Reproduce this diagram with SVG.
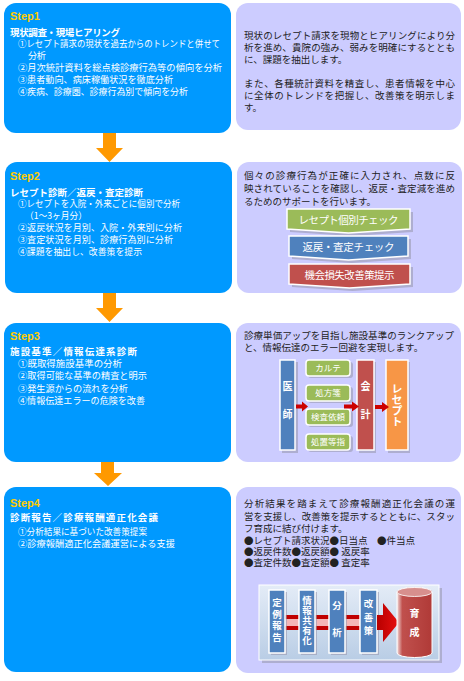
<svg xmlns="http://www.w3.org/2000/svg" width="464" height="681" viewBox="0 0 464 681">
<style>
.bl{fill:#0099FF}
.lv{fill:#CCCCFF}
.st{font-family:"Liberation Sans",Arial,sans-serif;font-weight:bold;font-size:11px;fill:#FFCC00}
.tt{font-family:"Noto Sans CJK JP",sans-serif;font-weight:bold;font-size:9.5px;fill:#FFFFFF}
.lt{font-family:"Noto Sans CJK JP",sans-serif;font-size:9.2px;fill:#FFFFFF}
.rt{font-family:"Noto Sans CJK JP",sans-serif;font-size:9.5px;fill:#222222}
.bn{font-family:"Noto Sans CJK JP",sans-serif;font-size:10.5px;fill:#FFFFFF;text-anchor:middle}
.vt{font-family:"Noto Sans CJK JP",sans-serif;font-weight:bold;font-size:10px;fill:#FFFFFF;text-anchor:middle;writing-mode:vertical-rl}
.gt{font-family:"Noto Sans CJK JP",sans-serif;font-size:8.5px;fill:#FFFFFF;text-anchor:middle}
.arr{fill:#FF9900}
.sh{fill:#9A9AB0;opacity:0.6}
.wb{stroke:#FFFFFF;stroke-width:1.5}
.ra{fill:#CC0000}
</style>
<defs>
<linearGradient id="pan" x1="0" y1="0" x2="0" y2="1">
<stop offset="0" stop-color="#E4ECF7"/>
<stop offset="1" stop-color="#B9CDE5"/>
</linearGradient>
<linearGradient id="band" x1="0" y1="0" x2="0" y2="1">
<stop offset="0" stop-color="#C00000"/>
<stop offset="0.28" stop-color="#C00000"/>
<stop offset="0.3" stop-color="#F4B6B6"/>
<stop offset="0.7" stop-color="#F4B6B6"/>
<stop offset="0.72" stop-color="#C00000"/>
<stop offset="1" stop-color="#C00000"/>
</linearGradient>
<linearGradient id="bigarr" x1="0" y1="0" x2="1" y2="0">
<stop offset="0" stop-color="#B80000"/>
<stop offset="1" stop-color="#E81010"/>
</linearGradient>
<linearGradient id="cyl" x1="0" y1="0" x2="1" y2="0">
<stop offset="0" stop-color="#F2DCDB"/>
<stop offset="0.15" stop-color="#C0504D"/>
<stop offset="1" stop-color="#B03A37"/>
</linearGradient>
</defs>

<g id="connectors">
<polygon class="arr" points="103,133 116,133 116,148 123,148 109.5,162 96,148 103,148"/>
<polygon class="arr" points="103,293 116,293 116,308 123,308 109.5,322 96,308 103,308"/>
<polygon class="arr" points="101,462 114,462 114,473 122,473 108,486 94,473 101,473"/>
</g>

<g id="step1">
<rect class="bl" x="4" y="3" width="227" height="130" rx="12"/>
<text class="st" x="10" y="20">Step1</text>
<text class="tt" x="10" y="35.5" textLength="110">現状調査・現場ヒアリング</text>
<text class="lt" x="18" y="47" textLength="202" lengthAdjust="spacingAndGlyphs">①レセプト請求の現状を過去からのトレンドと併せて</text>
<text class="lt" x="28" y="59" textLength="18">分析</text>
<text class="lt" x="18" y="71" textLength="204" lengthAdjust="spacingAndGlyphs">②月次統計資料を総点検診療行為等の傾向を分析</text>
<text class="lt" x="18" y="83" textLength="155" lengthAdjust="spacingAndGlyphs">③患者動向、病床稼働状況を徹底分析</text>
<text class="lt" x="18" y="95" textLength="170" lengthAdjust="spacingAndGlyphs">④疾病、診療圏、診療行為別で傾向を分析</text>
</g>

<g id="step1-desc">
<rect class="lv" x="236" y="3" width="225" height="127" rx="12"/>
<text class="rt" x="244" y="39" textLength="211">現状のレセプト請求を現物とヒアリングにより分</text>
<text class="rt" x="244" y="51" textLength="211">析を進め、貴院の強み、弱みを明確にするととも</text>
<text class="rt" x="244" y="62.5">に、課題を抽出します。</text>
<text class="rt" x="244" y="87" textLength="211">また、各種統計資料を精査し、患者情報を中心</text>
<text class="rt" x="244" y="99" textLength="211">に全体のトレンドを把握し、改善策を明示しま</text>
<text class="rt" x="244" y="110.5">す。</text>
</g>

<g id="step2">
<rect class="bl" x="5" y="162" width="227" height="131" rx="12"/>
<text class="st" x="10" y="180">Step2</text>
<text class="tt" x="10" y="196" textLength="133">レセプト診断／返戻・査定診断</text>
<text class="lt" x="18" y="207" textLength="162" lengthAdjust="spacingAndGlyphs">①レセプトを入院・外来ごとに個別で分析</text>
<text class="lt" x="25" y="219" textLength="62" lengthAdjust="spacingAndGlyphs">（1～3ヶ月分）</text>
<text class="lt" x="18" y="231" textLength="164" lengthAdjust="spacingAndGlyphs">②返戻状況を月別、入院・外来別に分析</text>
<text class="lt" x="18" y="243" textLength="155" lengthAdjust="spacingAndGlyphs">③査定状況を月別、診療行為別に分析</text>
<text class="lt" x="18" y="255" textLength="124" lengthAdjust="spacingAndGlyphs">④課題を抽出し、改善策を提示</text>
</g>

<g id="step2-desc">
<rect class="lv" x="237" y="162" width="225" height="131" rx="12"/>
<text class="rt" x="244" y="178.5" textLength="211">個々の診療行為が正確に入力され、点数に反</text>
<text class="rt" x="244" y="191.5" textLength="211">映されていることを確認し、返戻・査定減を進め</text>
<text class="rt" x="244" y="204.5">るためのサポートを行います。</text>
<polygon class="sh" points="290,212 413,212 413,232 351.5,236 290,232"/>
<polygon fill="#9BBB59" class="wb" points="287,209 410,209 410,229 348.5,233 287,229"/>
<text class="bn" x="348.5" y="224" textLength="100">レセプト個別チェック</text>
<polygon class="sh" points="292,239 411,239 411,259 351.5,263 292,259"/>
<polygon fill="#4F81BD" class="wb" points="289,236 408,236 408,256 348.5,260 289,256"/>
<text class="bn" x="348.5" y="251" textLength="92">返戻・査定チェック</text>
<polygon class="sh" points="292,267 413,267 413,287 352.5,291 292,287"/>
<polygon fill="#C0504D" class="wb" points="289,264 410,264 410,284 349.5,288 289,284"/>
<text class="bn" x="349.5" y="279" textLength="90">機会損失改善策提示</text>
</g>

<g id="step3">
<rect class="bl" x="4" y="323" width="227" height="139" rx="12"/>
<text class="st" x="10" y="340">Step3</text>
<text class="tt" x="10" y="354.5" textLength="127">施設基準／情報伝達系診断</text>
<text class="lt" x="18" y="367" textLength="104" lengthAdjust="spacingAndGlyphs">①既取得施設基準の分析</text>
<text class="lt" x="18" y="379" textLength="129" lengthAdjust="spacingAndGlyphs">②取得可能な基準の精査と明示</text>
<text class="lt" x="18" y="391.5" textLength="110" lengthAdjust="spacingAndGlyphs">③発生源からの流れを分析</text>
<text class="lt" x="18" y="403.5" textLength="127" lengthAdjust="spacingAndGlyphs">④情報伝達エラーの危険を改善</text>
</g>

<g id="step3-desc">
<rect class="lv" x="236" y="323" width="225" height="139" rx="12"/>
<text class="rt" x="244" y="338.5" textLength="210">診療単価アップを目指し施設基準のランクアップ</text>
<text class="rt" x="244" y="350.5">と、情報伝達のエラー回避を実現します。</text>
<rect class="sh" x="282" y="362" width="16" height="91"/>
<rect fill="#4F81BD" class="wb" x="280" y="360" width="15" height="90"/>
<text class="vt" x="287.5" y="409" style="letter-spacing:18px">医師</text>
<rect class="sh" x="308" y="362" width="45" height="16" rx="3"/>
<rect fill="#9BBB59" class="wb" x="306" y="360" width="44" height="16" rx="3"/>
<text class="gt" x="328" y="371">カルテ</text>
<rect class="sh" x="308" y="387" width="45" height="16" rx="3"/>
<rect fill="#9BBB59" class="wb" x="306" y="385" width="44" height="16" rx="3"/>
<text class="gt" x="328" y="396">処方箋</text>
<rect class="sh" x="308" y="411" width="45" height="16" rx="3"/>
<rect fill="#9BBB59" class="wb" x="306" y="409" width="44" height="16" rx="3"/>
<text class="gt" x="328" y="420">検査依頼</text>
<rect class="sh" x="308" y="436" width="45" height="16" rx="3"/>
<rect fill="#9BBB59" class="wb" x="306" y="434" width="44" height="16" rx="3"/>
<text class="gt" x="328" y="445">処置等指</text>
<rect class="sh" x="359" y="362" width="17" height="91"/>
<rect fill="#C0504D" class="wb" x="357" y="360" width="17" height="90"/>
<text class="vt" x="365.5" y="409" style="letter-spacing:18px">会計</text>
<rect class="sh" x="388" y="362" width="22" height="91"/>
<rect fill="#F79646" class="wb" x="386" y="360" width="22" height="90"/>
<text class="vt" x="397" y="405" style="font-size:11px">レセプト</text>
<polygon class="ra" points="296,404.5 302,404.5 302,401.5 308,406.5 302,411.5 302,408.5 296,408.5"/>
<polygon class="ra" points="344,404.5 352,404.5 352,401.5 359,406.5 352,411.5 352,408.5 344,408.5"/>
<polygon class="ra" points="375,405 382,405 382,402 389,407 382,412 382,409 375,409"/>
</g>

<g id="step4">
<rect class="bl" x="4" y="487" width="227" height="185" rx="12"/>
<text class="st" x="10" y="507">Step4</text>
<text class="tt" x="10" y="521" textLength="148">診断報告／診療報酬適正化会議</text>
<text class="lt" x="18" y="535" textLength="129" lengthAdjust="spacingAndGlyphs">①分析結果に基づいた改善策提案</text>
<text class="lt" x="18" y="547" textLength="157" lengthAdjust="spacingAndGlyphs">②診療報酬適正化会議運営による支援</text>
</g>

<g id="step4-desc">
<rect class="lv" x="236" y="487" width="225" height="186" rx="12"/>
<text class="rt" x="244" y="507" textLength="211">分析結果を踏まえて診療報酬適正化会議の運</text>
<text class="rt" x="244" y="519.5" textLength="211">営を支援し、改善策を提示するとともに、スタッ</text>
<text class="rt" x="244" y="532">フ育成に結び付けます。</text>
<text class="rt" x="244" y="544">●レセプト請求状況●日当点　●件当点</text>
<text class="rt" x="244" y="555">●返戻件数●返戻額● 返戻率</text>
<text class="rt" x="244" y="566">●査定件数●査定額● 査定率</text>
<rect class="sh" x="262" y="588" width="180" height="75"/>
<rect fill="url(#pan)" stroke="#FFFFFF" stroke-width="1" x="259" y="585" width="180" height="75"/>
<rect fill="url(#band)" x="284" y="615" width="94" height="15"/>
<rect class="sh" x="271" y="592" width="16" height="63"/>
<rect fill="#4F81BD" class="wb" x="269" y="590" width="16" height="63"/>
<rect class="sh" x="301" y="592" width="16" height="63"/>
<rect fill="#4F81BD" class="wb" x="299" y="590" width="16" height="63"/>
<rect class="sh" x="331" y="592" width="16" height="63"/>
<rect fill="#4F81BD" class="wb" x="329" y="590" width="16" height="63"/>
<rect class="sh" x="362" y="592" width="17" height="63"/>
<rect fill="#4F81BD" class="wb" x="360" y="590" width="17" height="63"/>
<polygon fill="url(#bigarr)" points="377,615 383,615 383,603 399,622.5 383,642 383,630 377,630"/>
<path fill="url(#cyl)" stroke="#FFFFFF" stroke-width="1" d="M397,592 A17.5,4.5 0 0 1 432,592 L432,653 A17.5,4.5 0 0 1 397,653 Z"/>
<ellipse fill="#D78F8D" stroke="#FFFFFF" stroke-width="0.8" cx="414.5" cy="592" rx="17.5" ry="4.5"/>
<text class="vt" x="277" y="621" style="font-size:9.5px;letter-spacing:2px">定例報告</text>
<text class="vt" x="307" y="620.5" style="font-size:9.5px;letter-spacing:0.5px">情報共有化</text>
<text class="vt" x="337" y="627.5" style="font-size:9.5px;letter-spacing:17.5px">分析</text>
<text class="vt" x="368.5" y="619" style="font-size:9.5px;letter-spacing:4px">改善策</text>
<text class="vt" x="414.5" y="627.5" style="letter-spacing:9px">育成</text>
</g>
</svg>
